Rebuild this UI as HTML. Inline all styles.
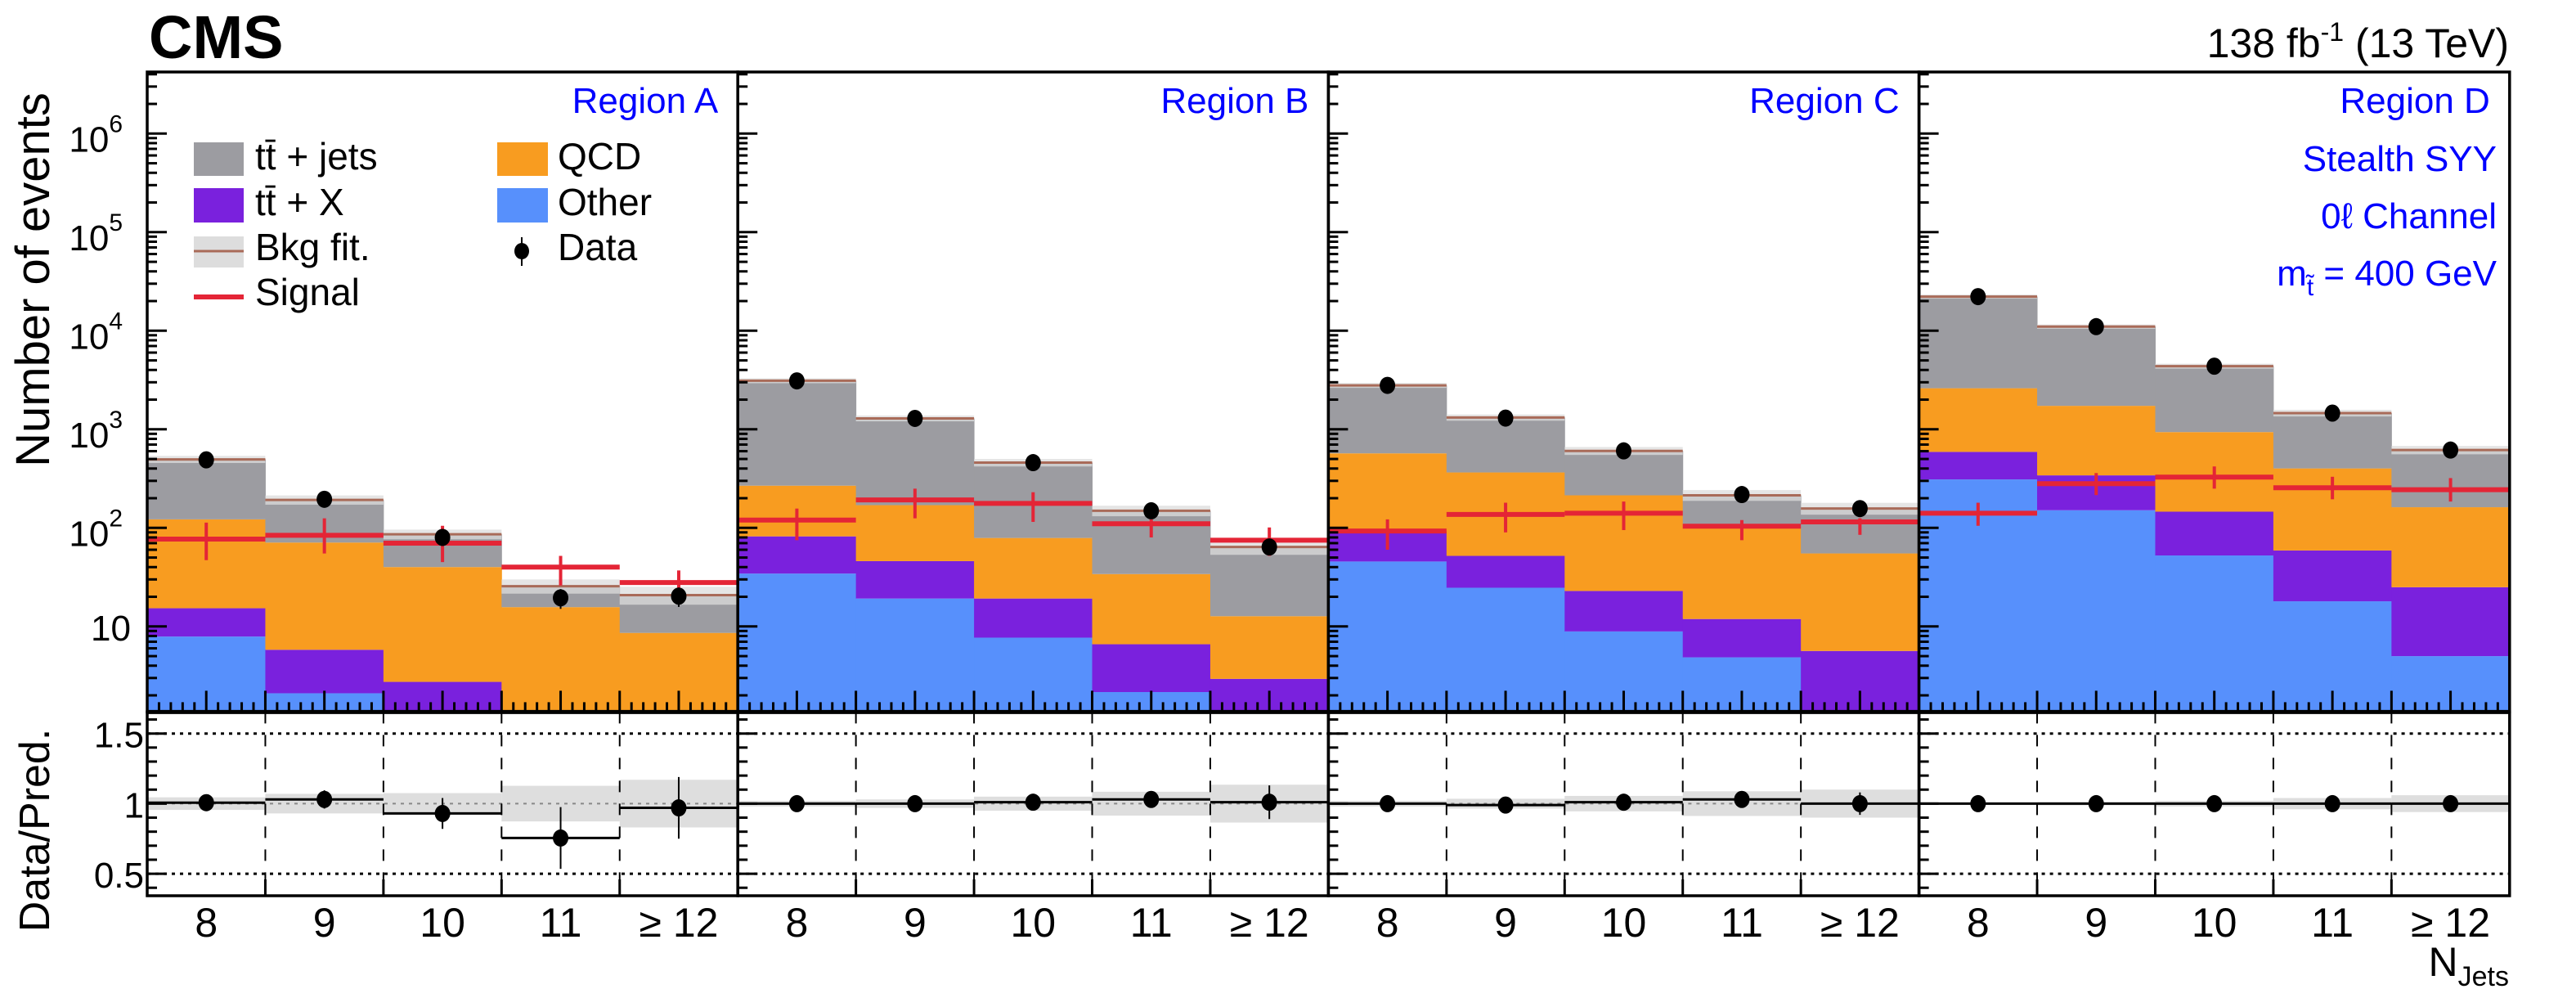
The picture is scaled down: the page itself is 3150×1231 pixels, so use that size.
<!DOCTYPE html>
<html><head><meta charset="utf-8"><style>
html,body{margin:0;padding:0;background:#fff;}
svg{display:block;font-family:"Liberation Sans",Arial,sans-serif;}
</style></head><body>
<svg id="chart" width="3150" height="1231" viewBox="0 0 3150 1231" xmlns="http://www.w3.org/2000/svg">
<text x="182" y="71" font-size="74" font-weight="bold">CMS</text>
<text x="3068" y="70" font-size="50" text-anchor="end">138 fb<tspan dy="-20" font-size="32">-1</tspan><tspan dy="20"> (13 TeV)</tspan></text>
<text transform="translate(60,342) rotate(-90)" font-size="58" text-anchor="middle">Number of events</text>
<text transform="translate(60,1015) rotate(-90)" font-size="52" text-anchor="middle">Data/Pred.</text>
<text x="3068" y="1193" font-size="50" text-anchor="end">N<tspan font-size="34" dy="12">Jets</tspan></text>
<g id="plots"></g>
<g>
<rect x="237" y="174" width="61" height="41" fill="#9c9ca1"/>
<text x="312" y="207" font-size="46">tt̄ + jets</text>
<rect x="237" y="230" width="61" height="42" fill="#7a21dd"/>
<text x="312" y="263" font-size="46">tt̄ + X</text>
<rect x="237" y="289" width="61" height="38" fill="#dddddd"/>
<line x1="237" x2="298" y1="307" y2="307" stroke="#a96b59" stroke-width="3"/>
<text x="312" y="318" font-size="46">Bkg fit.</text>
<line x1="237" x2="298" y1="363" y2="363" stroke="#e42536" stroke-width="6"/>
<text x="312" y="373" font-size="46">Signal</text>
<rect x="608" y="174" width="62" height="41" fill="#f89c20"/>
<text x="682" y="207" font-size="46">QCD</text>
<rect x="608" y="230" width="62" height="42" fill="#5790fc"/>
<text x="682" y="263" font-size="46">Other</text>
<line x1="638" x2="638" y1="290" y2="325" stroke="#000" stroke-width="2"/>
<ellipse cx="638" cy="307" rx="9" ry="10" fill="#000"/>
<text x="682" y="318" font-size="46">Data</text>
</g>
<g fill="#0000ff" font-size="44" text-anchor="end">
<text x="3053" y="209">Stealth SYY</text>
<text x="3053" y="279">0ℓ Channel</text>
<text x="3053" y="349">m<tspan font-size="30" dy="12">t̃</tspan><tspan dy="-12"> = 400 GeV</tspan></text>
</g>
</svg>
<script>
const categories=["8","9","10","11","\u2265 12"];
const regions=["Region A","Region B","Region C","Region D"];
const otherVals=[[7.9,2.1,1.0,0.4,0.4],[34.4,19.2,7.7,2.16,1.0],[45.6,24.7,8.9,4.86,0.8],[310,151,52.5,18,5]];
const ttxVals=[[7.4,3.7,1.74,0.4,0.4],[47.6,26.8,11.5,4.44,1.94],[47.4,27.3,14,7.04,4.84],[280,190,93.5,41,20]];
const qcdVals=[[106.7,65.2,37.3,14.9,7.8],[186,124,59.8,27.4,9.76],[477,313,191,92.1,49.4],[2020,1389,791,342,137]];
const ttjetsVals=[[373,121,46,9.9,12.2],[2842,1120,380,115,51.3],[2220,951,390,110,102],[19590,9270,3433,1059,454]];
const dataVals=[[490,195,80,19.5,20.3],[3100,1290,459,149,64],[2790,1300,604,218,157],[22200,11000,4370,1460,616]];
const signalVals=[[77,84,70,40,27.9],[120,192,177,110,75],[93,137,141,104,115],[141,281,327,255,244]];
const signalLo=[[47,55,45,26,18],[75,125,115,80,52],[60,90,95,75,85],[105,215,250,195,185]];
const signalHi=[[113,125,105,52,37],[157,250,230,122,101],[122,180,185,120,125],[180,360,420,330,320]];
const ratioVals=[[1.007,1.03,0.93,0.755,0.97],[1.0,1.0,1.01,1.03,1.01],[1.0,0.99,1.01,1.03,1.0],[1.0,1.0,1.0,1.0,1.0]];
const ratioErr=[[0.04,0.065,0.11,0.22,0.22],[0.015,0.025,0.04,0.04,0.12],[0.015,0.025,0.035,0.04,0.08],[0.006,0.008,0.015,0.025,0.04]];
const bandErr=[[0.045,0.07,0.075,0.127,0.17],[0.02,0.03,0.05,0.085,0.135],[0.02,0.035,0.055,0.088,0.1],[0.01,0.012,0.02,0.04,0.06]];
const yTickExps=[1,2,3,4,5,6];
const ratioTicks=[0.5,1,1.5];

const NS="http://www.w3.org/2000/svg";
const g=document.getElementById("plots");
const PX0=180,PW=722.2,MT=88,MB=870.4,RB=1095;
const BW=PW/5;
const LOGMIN=Math.log10(1.36),LOGMAX=6.625;
function yMain(v){const l=Math.log10(Math.max(v,1e-3));const y=765.8-120.5*(l-1);return Math.min(MB,Math.max(MT,y));}
function yRatio(r){const y=982.4-(r-1)*171.4;return Math.min(RB,Math.max(MB,y));}
function xBin(p,i){return PX0+p*PW+i*BW;}
function mk(tag,attrs,parent){const e=document.createElementNS(NS,tag);for(const k in attrs)e.setAttribute(k,attrs[k]);(parent||g).appendChild(e);return e;}

const colors={other:"#5790fc",ttx:"#7a21dd",qcd:"#f89c20",ttjets:"#9c9ca1"};
for(let p=0;p<4;p++){
  const pg=mk("g",{});
  
  
  const left=PX0+p*PW,right=left+PW;
  const series=[["other",otherVals],["ttx",ttxVals],["qcd",qcdVals],["ttjets",ttjetsVals]];
  for(let i=0;i<5;i++){
    let cum=0;
    const x=xBin(p,i);
    for(const [nm,arr] of series){
      const lo=cum;cum+=arr[p][i];
      const y1=yMain(cum),y0=yMain(lo>0?lo:1e-3);
      const r=mk("rect",{x:x,y:y1,width:BW+0.5,height:Math.max(0,y0-y1),fill:colors[nm]},pg);
      
      
    }
    const e=bandErr[p][i];
    const bt=yMain(cum*(1+e)),bb=yMain(cum*(1-e));
    const band=mk("rect",{x:x,y:bt-2,width:BW,height:bb-bt+4,fill:"#dcdcdc","fill-opacity":"0.75"},pg);
    
    
    const bl=mk("line",{x1:x,x2:x+BW,y1:yMain(cum),y2:yMain(cum),stroke:"#a96b59","stroke-width":3},pg);
    
    
  }
  for(let i=0;i<5;i++){
    const x=xBin(p,i),cx=x+BW/2;
    const sl=mk("line",{x1:x,x2:x+BW,y1:yMain(signalVals[p][i]),y2:yMain(signalVals[p][i]),stroke:"#e42536","stroke-width":6},pg);
    
    
    const se=mk("line",{x1:cx,x2:cx,y1:yMain(signalHi[p][i]),y2:yMain(signalLo[p][i]),stroke:"#e42536","stroke-width":4},pg);
    
    
  }
  for(let i=0;i<5;i++){
    const cx=xBin(p,i)+BW/2,d=dataVals[p][i],s=Math.sqrt(d);
    const de=mk("line",{x1:cx,x2:cx,y1:yMain(d+s),y2:yMain(d-s),stroke:"#000","stroke-width":2},pg);
    
    
    const dp=mk("ellipse",{cx:cx,cy:yMain(d),rx:9.5,ry:10.5,fill:"#000"},pg);
    
    
  }
  // ratio panel
  for(let i=0;i<5;i++){
    const x=xBin(p,i),cx=x+BW/2,e=bandErr[p][i];
    const rb=mk("rect",{x:x,y:yRatio(1+e),width:BW,height:yRatio(1-e)-yRatio(1+e),fill:"#dedede"},pg);
    
    
  }
  const one=mk("line",{x1:left,x2:right,y1:yRatio(1),y2:yRatio(1),stroke:"#888","stroke-width":2,"stroke-dasharray":"4 6"},pg);
  
  
  for(const r of [0.5,1.5]){
    const l=mk("line",{x1:left,x2:right,y1:yRatio(r),y2:yRatio(r),stroke:"#000","stroke-width":3,"stroke-dasharray":"4 6"},pg);
    
    
  }
  for(let i=1;i<5;i++){
    const x=xBin(p,i);
    const l=mk("line",{x1:x,x2:x,y1:MB,y2:RB,stroke:"#000","stroke-width":2,"stroke-dasharray":"14 14"},pg);
    
    
  }
  for(let i=0;i<5;i++){
    const x=xBin(p,i),cx=x+BW/2,r=ratioVals[p][i],er=ratioErr[p][i];
    const h=mk("line",{x1:x,x2:x+BW,y1:yRatio(r),y2:yRatio(r),stroke:"#000","stroke-width":3},pg);
    
    
    const v=mk("line",{x1:cx,x2:cx,y1:yRatio(r+er),y2:yRatio(r-er),stroke:"#000","stroke-width":2},pg);
    
    
    const pt=mk("ellipse",{cx:cx,cy:yRatio(r),rx:9.5,ry:10.5,fill:"#000"},pg);
    
    
    const t=mk("text",{x:cx,y:1145,"font-size":50,"text-anchor":"middle"},pg);
    t.textContent=categories[i];
    
    
  }
  // ticks main
  for(let dec=0;dec<=6;dec++){
    for(let m=1;m<=9;m++){
      const v=m*Math.pow(10,dec);const l=Math.log10(v);
      if(l<LOGMIN||l>LOGMAX)continue;
      const y=765.8-120.5*(l-1);
      mk("line",{x1:left,x2:left+(m===1?24:12),y1:y,y2:y,stroke:"#000","stroke-width":3},pg);
    }
  }
  for(let k=1;k<50;k++){
    const x=left+k*BW/10;
    const len=(k%10===5)?26:(k%10===0?26:12);
    mk("line",{x1:x,x2:x,y1:MB,y2:MB-len,stroke:"#000","stroke-width":3},pg);
  }
  for(let k=1;k<5;k++){
    const x=left+k*BW;
    mk("line",{x1:x,x2:x,y1:RB,y2:RB-20,stroke:"#000","stroke-width":3},pg);
  }
  for(let r=0.4;r<=1.65;r+=0.1){
    const rr=Math.round(r*10)/10;const y=yRatio(rr);
    mk("line",{x1:left,x2:left+(ratioTicks.includes(rr)?24:12),y1:y,y2:y,stroke:"#000","stroke-width":3},pg);
  }
  // frames
  const f1=mk("rect",{x:left,y:MT,width:PW,height:MB-MT,fill:"none",stroke:"#000","stroke-width":3.5},pg);
  
  
  const f2=mk("rect",{x:left,y:MB,width:PW,height:RB-MB,fill:"none",stroke:"#000","stroke-width":3.5},pg);
  
  
  mk("line",{x1:left,x2:right,y1:MB,y2:MB,stroke:"#000","stroke-width":5},pg);
  const rl=mk("text",{x:right-24,y:138,"font-size":44,"text-anchor":"end",fill:"#0000ff"},pg);
  rl.textContent=regions[p];
  
  
}
// y tick labels
for(const e of yTickExps){
  const y=765.8-120.5*(e-1);
  const t=mk("text",{x:e===1?160:150,y:e===1?y+17:y+22,"font-size":44,"text-anchor":"end"});
  
  
  t.textContent="10";
  if(e>1){const s=mk("tspan",{dy:-24,"font-size":30},t);s.textContent=String(e);}
}
for(const r of ratioTicks){
  const t=mk("text",{x:176,y:yRatio(r)+17,"font-size":44,"text-anchor":"end"});
  t.textContent=String(r);
  
  
}
</script>
</body></html>
